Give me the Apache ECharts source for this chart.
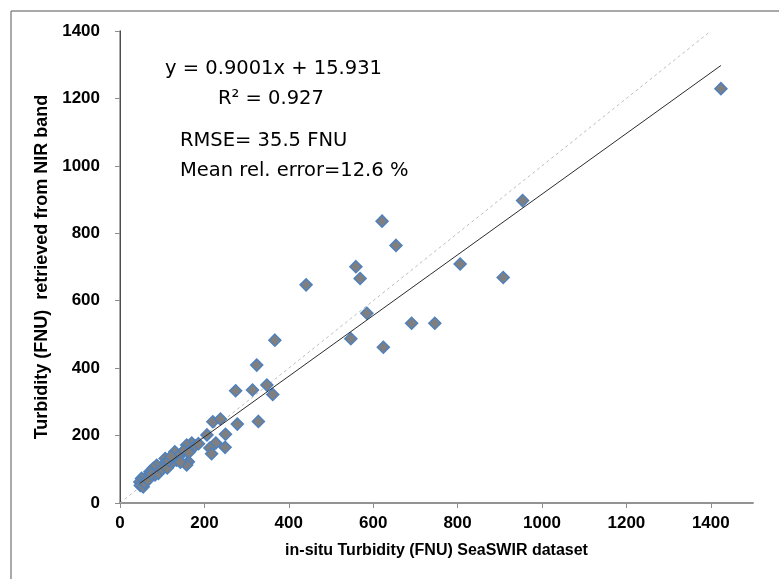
<!DOCTYPE html>
<html>
<head>
<meta charset="utf-8">
<script src="https://cdn.jsdelivr.net/npm/echarts@6/dist/echarts.min.js"></script>
<style>
  html, body { margin: 0; padding: 0; background: #ffffff; }
  #chart { width: 779px; height: 579px; }
</style>
</head>
<body>
<div id="chart"></div>
<script>
// In-situ turbidity (FNU) from the SeaSWIR dataset vs turbidity retrieved from the NIR band
const inSituTurbidity = [
  1424, 954, 806, 908, 691, 746, 621, 654, 559, 569,
  441, 585, 547, 624, 367, 324, 348, 362, 314, 274,
  220, 238, 278, 328, 206, 250, 227, 213, 249, 217,
  170, 158, 162, 158, 146, 130, 134, 122, 107, 103,
  95, 87, 79, 83, 71, 63, 51, 47, 48, 55,
  58, 66, 75, 91, 100, 112, 116, 140, 152, 163,
  178, 186, 121, 143
];
const nirTurbidity = [
  1229, 897, 709, 669, 533, 533, 836, 764, 701, 666,
  647, 563, 487, 462, 483, 409, 350, 322, 335, 333,
  241, 249, 234, 242, 202, 204, 178, 163, 165, 146,
  178, 172, 122, 113, 147, 152, 127, 118, 132, 113,
  98, 112, 103, 83, 93, 78, 73, 62, 52, 48,
  60, 68, 86, 88, 101, 104, 126, 140, 156, 150,
  170, 176, 138, 121
];

// Linear fit and statistics
const fitSlope = 0.9001;
const fitIntercept = 15.931;
const statLines = [
  'y = 0.9001x + 15.931',
  'R\u00B2 = 0.927',
  'RMSE= 35.5 FNU',
  'Mean rel. error=12.6 %'
];

// 1:1 reference line
const oneToOne = [[0, 0], [1400, 1400]];

// Axis scales
const xAxisMin = 0, xAxisMax = 1500, yAxisMin = 0, yAxisMax = 1400, axisStep = 200;

const points = inSituTurbidity.map((x, i) => [x, nirTurbidity[i]]);
const xLo = Math.min(...inSituTurbidity);
const xHi = Math.max(...inSituTurbidity);
const fitLine = [[xLo, fitSlope * xLo + fitIntercept], [xHi, fitSlope * xHi + fitIntercept]];

const chart = echarts.init(document.getElementById('chart'));
const plainNumber = v => String(v);
const tickFont = { fontFamily: 'Liberation Sans', fontWeight: 'bold', fontSize: 17, color: '#000', formatter: plainNumber };
const statFont = { fontFamily: 'DejaVu Sans', fontSize: 19.5, fill: '#000' };

chart.setOption({
  backgroundColor: '#ffffff',
  animation: false,
  grid: { left: 120, right: 26, top: 31, bottom: 76, containLabel: false },
  xAxis: [{
    type: 'value', min: xAxisMin, max: xAxisMax, interval: axisStep,
    name: 'in-situ Turbidity (FNU) SeaSWIR dataset',
    nameLocation: 'middle', nameGap: 40,
    nameTextStyle: { fontFamily: 'Liberation Sans', fontWeight: 'bold', fontSize: 16, color: '#000' },
    axisLine: { show: true, onZero: false, lineStyle: { color: '#8c8c8c', width: 1.5 } },
    axisTick: { show: true, length: 5, lineStyle: { color: '#8c8c8c' } },
    axisLabel: Object.assign({ margin: 12, showMaxLabel: false }, tickFont),
    splitLine: { show: false }
  }, {
    type: 'value', position: 'top', min: xAxisMin, max: xAxisMax,
    axisLine: { show: true, lineStyle: { color: '#8c8c8c', width: 1.5 } },
    axisTick: { show: false }, axisLabel: { show: false }, splitLine: { show: false }
  }],
  yAxis: [{
    type: 'value', min: yAxisMin, max: yAxisMax, interval: axisStep,
    name: 'Turbidity (FNU)  retrieved from NIR band',
    nameLocation: 'middle', nameGap: 58,
    nameTextStyle: { fontFamily: 'Liberation Sans', fontWeight: 'bold', fontSize: 18, color: '#000' },
    axisLine: { show: true, onZero: false, lineStyle: { color: '#8c8c8c', width: 1.5 } },
    axisTick: { show: true, length: 5, lineStyle: { color: '#8c8c8c' } },
    axisLabel: Object.assign({ margin: 20 }, tickFont),
    splitLine: { show: false }
  }, {
    type: 'value', position: 'right', min: yAxisMin, max: yAxisMax,
    axisLine: { show: true, lineStyle: { color: '#4d4d4d', width: 1 } },
    axisTick: { show: false }, axisLabel: { show: false }, splitLine: { show: false }
  }],
  series: [
    {
      type: 'line', data: oneToOne, symbol: 'none', z: 1,
      lineStyle: { color: '#bdbdbd', width: 1, type: [3, 3] }
    },
    {
      type: 'scatter', data: points, symbol: 'diamond', symbolSize: 12, z: 2,
      itemStyle: { color: '#7f7f7f', borderColor: '#4f81bd', borderWidth: 1.5, opacity: 1 }
    },
    {
      type: 'line', data: fitLine, symbol: 'none', z: 3,
      lineStyle: { color: '#2b2b2b', width: 1 }
    }
  ],
  graphic: [
    { type: 'line', shape: { x1: 11, y1: 11, x2: 779, y2: 11 }, style: { stroke: '#8c8c8c', lineWidth: 1.5 } },
    { type: 'line', shape: { x1: 11, y1: 11, x2: 11, y2: 579 }, style: { stroke: '#8c8c8c', lineWidth: 1.5 } },
    { type: 'text', left: 165, top: 59, style: Object.assign({ text: statLines[0] }, statFont) },
    { type: 'text', left: 218, top: 89, style: Object.assign({ text: statLines[1] }, statFont) },
    { type: 'text', left: 180, top: 131, style: Object.assign({ text: statLines[2] }, statFont) },
    { type: 'text', left: 180, top: 161, style: Object.assign({ text: statLines[3] }, statFont) }
  ]
});
</script>
</body>
</html>
